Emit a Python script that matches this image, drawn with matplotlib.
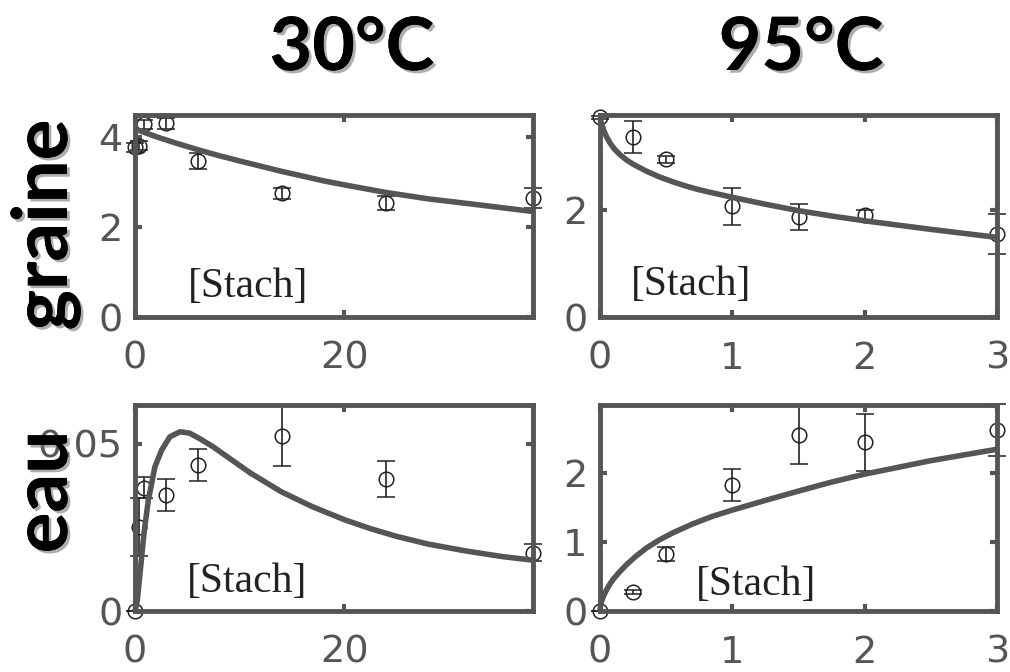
import matplotlib
matplotlib.use("Agg")
import matplotlib.pyplot as plt
import matplotlib.patheffects as pe

# ---------------- data ----------------
col_titles = ["30°C", "95°C"]
row_labels = ["graine", "eau"]
annot = "[Stach]"

# 30°C, graine
t30 = [0, 0.35, 0.9, 3, 6, 14, 24, 38]
graine30 = [3.76, 3.8, 4.28, 4.3, 3.46, 2.74, 2.53, 2.64]
graine30_err = [0.1, 0.1, 0.1, 0.12, 0.17, 0.12, 0.15, 0.22]
fit_t30_g = [0, 2, 4, 6, 8, 10, 14, 18, 20, 24, 28, 32, 38]
fit_graine30 = [4.17, 4.0, 3.85, 3.71, 3.58, 3.46, 3.23, 3.02, 2.93, 2.76, 2.62, 2.51, 2.34]

# 95°C, graine
t95 = [0, 0.25, 0.5, 1, 1.5, 2, 3]
graine95 = [3.74, 3.36, 2.95, 2.07, 1.87, 1.9, 1.55]
graine95_err = [0.03, 0.3, 0.06, 0.35, 0.25, 0.11, 0.37]
fit_t95_g = [0, 0.01, 0.03, 0.05, 0.08, 0.11, 0.15, 0.2, 0.25, 0.35, 0.45, 0.55,
             0.65, 0.75, 0.875, 1.0, 1.25, 1.5, 1.75, 2.0, 2.5, 3.0]
fit_graine95 = [3.72, 3.63, 3.48, 3.37, 3.24, 3.14, 3.04, 2.94, 2.86, 2.73, 2.62, 2.53,
                2.45, 2.38, 2.31, 2.24, 2.11, 1.99, 1.89, 1.80, 1.64, 1.49]

# 30°C, eau
eau30 = [0.0, 0.0251, 0.0369, 0.0347, 0.0436, 0.0524, 0.0396, 0.0174]
eau30_err = [0.0, 0.0087, 0.0031, 0.0049, 0.0048, 0.009, 0.0054, 0.0025]
fit_t30_e = [0, 0.22, 0.54, 0.86, 1.27, 1.9, 2.54, 3.33, 4.3, 5.2, 6.2, 7.46, 9, 11,
             14, 17, 20, 22.5, 25, 28, 31.5, 35, 38]
fit_eau30 = [0.0, 0.0032, 0.0132, 0.0233, 0.0331, 0.0431, 0.0481, 0.0521, 0.0536, 0.0532,
             0.0515, 0.0491, 0.0457, 0.0413, 0.0356, 0.0311, 0.0273, 0.0246, 0.0223,
             0.0200, 0.0180, 0.0163, 0.0152]

# 95°C, eau
eau95 = [0.0, 0.275, 0.83, 1.82, 2.54, 2.44, 2.62]
eau95_err = [0.0, 0.03, 0.1, 0.23, 0.42, 0.41, 0.38]
fit_t95_e = [0, 0.005, 0.015, 0.03, 0.05, 0.075, 0.1, 0.15, 0.2, 0.27, 0.35, 0.45,
             0.55, 0.7, 0.85, 1.0, 1.25, 1.5, 1.75, 2.0, 2.5, 3.0]
fit_eau95 = [0.0, 0.09, 0.16, 0.23, 0.31, 0.39, 0.46, 0.57, 0.67, 0.79, 0.91, 1.03,
             1.13, 1.26, 1.37, 1.46, 1.60, 1.735, 1.865, 1.98, 2.175, 2.34]

# ticks
xt30 = [0, 20]
xt95 = [0, 1, 2, 3]
yt_g30 = [0, 2, 4]
yt_g95 = [0, 2]
yt_e30 = [0, 0.05]
yt_e30_labels = ["0", "0.05"]
yt_e95 = [0, 1, 2]

# ---------------- figure ----------------
W, H = 1010, 672
fig = plt.figure(figsize=(W / 100, H / 100), dpi=100)

def rect(l, r, t, b):
    return [l / W, 1 - b / H, (r - l) / W, (b - t) / H]

GRAY = "#555555"
INK = "#222222"

panels = [
    dict(rect=rect(135, 533, 115, 317), t=t30, y=graine30, e=graine30_err,
         ft=fit_t30_g, fy=fit_graine30, xlim=(0, 38), ylim=(0, 4.48),
         xt=xt30, yt=yt_g30, ytl=None, tx=0.283, ty=0.099),
    dict(rect=rect(600, 997, 115, 317), t=t95, y=graine95, e=graine95_err,
         ft=fit_t95_g, fy=fit_graine95, xlim=(0, 3), ylim=(0, 3.78),
         xt=xt95, yt=yt_g95, ytl=None, tx=0.229, ty=0.107),
    dict(rect=rect(135, 533, 405, 611), t=t30, y=eau30, e=eau30_err,
         ft=fit_t30_e, fy=fit_eau30, xlim=(0, 38), ylim=(0, 0.0616),
         xt=xt30, yt=yt_e30, ytl=yt_e30_labels, tx=0.281, ty=0.092),
    dict(rect=rect(600, 997, 405, 611), t=t95, y=eau95, e=eau95_err,
         ft=fit_t95_e, fy=fit_eau95, xlim=(0, 3), ylim=(0, 2.98),
         xt=xt95, yt=yt_e95, ytl=None, tx=0.392, ty=0.076),
]

for p in panels:
    ax = fig.add_axes(p["rect"])
    ax.errorbar(p["t"], p["y"], yerr=p["e"], fmt="o", ms=10.5, mfc="none",
                mec=INK, mew=1.1, ecolor=INK, elinewidth=1.2, capsize=6.5,
                capthick=1.2, clip_on=False, zorder=2.5)
    ax.plot(p["ft"], p["fy"], color=GRAY, lw=4, solid_capstyle="butt",
            solid_joinstyle="round", zorder=3, clip_on=False)
    ax.set_xlim(*p["xlim"])
    ax.set_ylim(*p["ylim"])
    ax.set_xticks(p["xt"])
    ax.set_yticks(p["yt"])
    if p["ytl"] is not None:
        ax.set_yticklabels(p["ytl"])
    for s in ax.spines.values():
        s.set_color(GRAY)
        s.set_linewidth(3.5)
        s.set_zorder(4)
    ax.tick_params(axis="both", direction="in", top=True, right=True,
                   length=5, width=3, color=GRAY, labelcolor="#555555",
                   labelsize=27.5)
    ax.tick_params(axis="x", pad=17)
    ax.tick_params(axis="y", pad=9)
    for lab in ax.get_xticklabels() + ax.get_yticklabels():
        lab.set_fontfamily("DejaVu Sans")
    ax.text(p["tx"], p["ty"], annot, transform=ax.transAxes, ha="center",
            va="baseline", fontsize=30, family="Liberation Serif", color=INK,
            zorder=5)

shadow = [pe.withSimplePatchShadow(offset=(2, -2), shadow_rgbFace="#777777", alpha=0.6),
          pe.Normal()]

for txt, cx in zip(col_titles, [352, 801]):
    fig.text(cx / W, 1 - 70 / H, txt, ha="center", va="baseline",
             fontsize=53, fontweight="bold", family="Lato", color="black",
             path_effects=shadow)

for txt, cy in zip(row_labels, [225, 492]):
    fig.text(67 / W, 1 - cy / H, txt, rotation=90, rotation_mode="anchor",
             ha="center", va="baseline", fontsize=55, fontweight="bold",
             family="Lato", color="black", path_effects=shadow, zorder=10)

fig.savefig("out.png", dpi=100)
